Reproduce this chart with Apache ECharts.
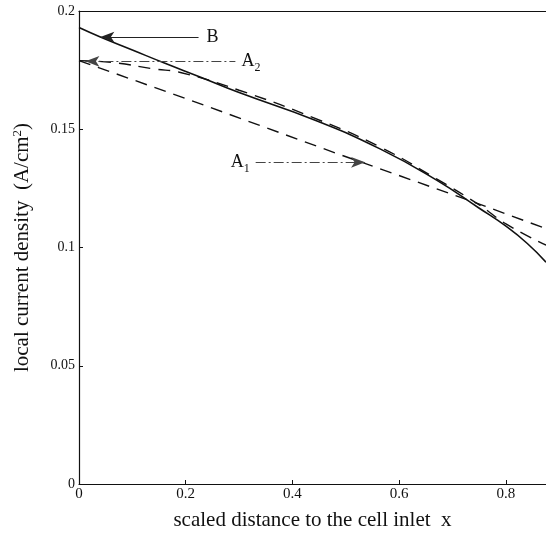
<!DOCTYPE html>
<html>
<head>
<meta charset="utf-8">
<script src="https://cdn.jsdelivr.net/npm/echarts@6/dist/echarts.min.js"></script>
<style>
  html, body { margin: 0; padding: 0; background: #fff; }
  #main { width: 546px; height: 535px; }
</style>
</head>
<body>
<div id="main"></div>
<script>
// values
var xB = [0, 0.04, 0.1, 0.16, 0.228, 0.3, 0.44, 0.564, 0.67, 0.75, 0.8, 0.84, 0.875];
var curveB = [0.193, 0.189, 0.1835, 0.178, 0.172, 0.1655, 0.154, 0.1417, 0.1285, 0.1166, 0.109, 0.1017, 0.0938];

var xA2 = [0, 0.06, 0.14, 0.19, 0.3, 0.44, 0.564, 0.67, 0.75, 0.8, 0.875];
var curveA2 = [0.179, 0.1783, 0.1755, 0.174, 0.1665, 0.1548, 0.1425, 0.129, 0.118, 0.110, 0.101];

var xA1 = [0, 0.2, 0.48, 0.73, 0.875];
var curveA1 = [0.179, 0.163, 0.140, 0.120, 0.108];

var yTicks = [0, 0.05, 0.1, 0.15, 0.2];
var xTicks = [0, 0.2, 0.4, 0.6, 0.8];

function pairs(xs, ys) {
  return xs.map(function (x, i) { return [x, ys[i]]; });
}

var font = 'Liberation Serif';
var arrowStyle = { color: '#222', width: 1, type: 'solid' };
var dashDot = { color: '#444', width: 1, type: [10, 3, 2, 3] };

var chart = echarts.init(document.getElementById('main'));
chart.setOption({
  animation: false,
  grid: { left: 79, right: 0, top: 11, bottom: 51, outerBoundsMode: 'none' },
  xAxis: [{
    type: 'value', min: 0, max: 0.875, interval: 0.2,
    axisLine: { lineStyle: { color: '#111', width: 1.2 } },
    axisTick: { inside: true, length: 4, lineStyle: { color: '#111' } },
    splitLine: { show: false },
    axisLabel: {
      color: '#111', fontFamily: font, fontSize: 15, showMaxLabel: false, margin: 3,
      formatter: function (v) { return xTicks.indexOf(Math.round(v * 10) / 10) >= 0 ? String(Math.round(v * 10) / 10) : ''; }
    },
    name: 'scaled distance to the cell inlet  x',
    nameLocation: 'middle', nameGap: 26,
    nameTextStyle: { color: '#111', fontFamily: font, fontSize: 21 }
  }, {
    type: 'value', position: 'top', min: 0, max: 0.875,
    axisLine: { lineStyle: { color: '#111', width: 1.2 } },
    axisTick: { show: false }, axisLabel: { show: false }, splitLine: { show: false }
  }],
  yAxis: {
    type: 'value', min: 0, max: 0.2, interval: 0.05,
    axisLine: { lineStyle: { color: '#111', width: 1.2 } },
    axisTick: { inside: true, length: 4, lineStyle: { color: '#111' } },
    splitLine: { show: false },
    axisLabel: {
      color: '#111', fontFamily: font, fontSize: 14, margin: 4,
      formatter: function (v) { return yTicks.indexOf(v) >= 0 ? String(v) : ''; }
    },
    name: 'local current density  (A/cm{s|2})',
    nameLocation: 'middle', nameGap: 45, nameRotate: 90,
    nameTextStyle: {
      color: '#111', fontFamily: font, fontSize: 21,
      rich: { s: { fontFamily: font, fontSize: 13, verticalAlign: 'top', padding: [0, 0, 10, 0] } }
    }
  },
  series: [{
    name: 'B', type: 'line', data: pairs(xB, curveB), smooth: 0.5,
    showSymbol: false, lineStyle: { color: '#111', width: 1.6 },
    markLine: {
      silent: true, symbol: ['arrow', 'none'], symbolSize: [8, 14],
      lineStyle: arrowStyle,
      label: { position: 'end', formatter: 'B', color: '#111', fontFamily: font, fontSize: 18, distance: 8 },
      data: [[{ coord: [0.04, 0.189] }, { coord: [0.224, 0.189] }]]
    }
  }, {
    name: 'A2', type: 'line', data: pairs(xA2, curveA2), smooth: 0.5,
    showSymbol: false, lineStyle: { color: '#111', width: 1.4, type: [12, 8] },
    markLine: {
      silent: true, symbol: ['arrow', 'none'], symbolSize: [8, 14],
      lineStyle: dashDot,
      label: {
        position: 'end', formatter: 'A{s|2}', color: '#111', fontFamily: font, fontSize: 18, distance: 6,
        rich: { s: { fontFamily: font, fontSize: 12, padding: [12, 0, 0, 0] } }
      },
      data: [[{ coord: [0.012, 0.1787] }, { coord: [0.293, 0.1787] }]]
    }
  }, {
    name: 'A1', type: 'line', data: pairs(xA1, curveA1),
    showSymbol: false, lineStyle: { color: '#111', width: 1.4, type: [12, 8] },
    markLine: {
      silent: true, symbol: ['none', 'arrow'], symbolSize: [8, 14],
      lineStyle: dashDot,
      label: {
        position: 'start', formatter: 'A{s|1}', color: '#111', fontFamily: font, fontSize: 18, distance: 6,
        rich: { s: { fontFamily: font, fontSize: 12, padding: [12, 0, 0, 0] } }
      },
      data: [[{ coord: [0.331, 0.136] }, { coord: [0.536, 0.136] }]]
    }
  }]
});
</script>
</body>
</html>
